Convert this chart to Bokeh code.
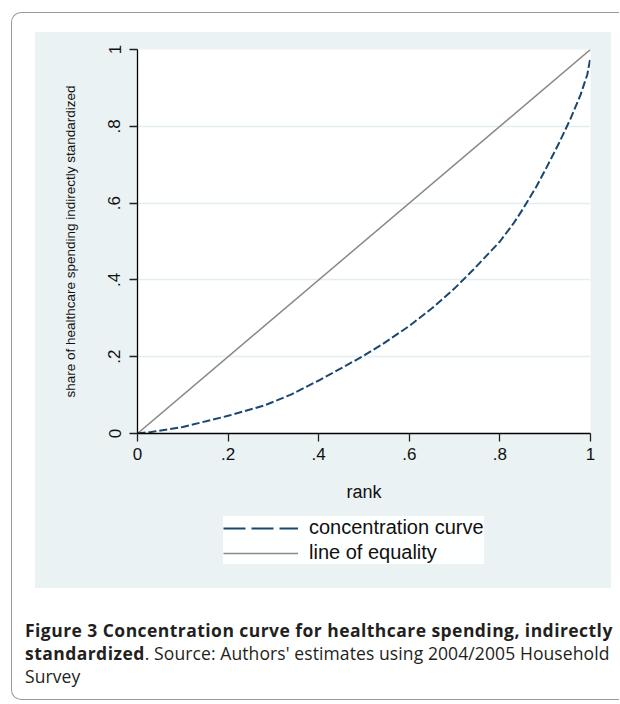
from bokeh.plotting import figure
from bokeh.models import FixedTicker, Legend, LegendItem, Div
from bokeh.layouts import column
from bokeh.embed import file_html
from bokeh.resources import INLINE

# ---- data ----
conc_rank = [0, 0.03, 0.1, 0.2, 0.28, 0.34, 0.4, 0.45, 0.5, 0.54, 0.6, 0.65, 0.7,
             0.74, 0.8, 0.83, 0.85, 0.88, 0.9, 0.93, 0.956, 0.978, 0.993, 1.0]
conc_share = [0, 0.004, 0.017, 0.046, 0.073, 0.102, 0.138, 0.170, 0.203, 0.232, 0.280,
              0.326, 0.378, 0.425, 0.500, 0.547, 0.583, 0.642, 0.686, 0.755, 0.820,
              0.882, 0.935, 0.98]
equality_rank = [0, 1]
equality_share = [0, 1]
tick_values = [0, 0.2, 0.4, 0.6, 0.8, 1]
tick_labels = ["0", ".2", ".4", ".6", ".8", "1"]
x_title = "rank"
y_title = "share of healthcare spending indirectly standardized"
series_names = ["concentration curve", "line of equality"]

PANEL = "#EAF2F3"
NAVY = "#1a476f"
GRAY = "#888888"
FONT = "Liberation Sans"

# ---- main plot (upper part of the shaded panel) ----
p = figure(width=576, height=480, x_range=(0, 1), y_range=(0, 1),
           output_backend="svg", toolbar_location=None,
           min_border_left=102, min_border_right=21, min_border_top=17,
           min_border_bottom=79,
           background_fill_color="white", border_fill_color=PANEL,
           outline_line_color=None)
p.margin = (19, 0, 0, 23)
p.styles = {"background-color": PANEL}

p.line(equality_rank, equality_share, line_color=GRAY, line_width=1.5)
p.line(conc_rank, conc_share, line_color=NAVY, line_width=2, line_dash="8 3")

overrides = {v: l for v, l in zip(tick_values, tick_labels)}
for ax in (p.xaxis[0], p.yaxis[0]):
    ax.ticker = FixedTicker(ticks=tick_values)
    ax.major_label_overrides = overrides
    ax.minor_tick_line_color = None
    ax.major_tick_in = 0
    ax.major_tick_out = 8
    ax.axis_line_color = "black"
    ax.axis_line_width = 1.3
    ax.major_tick_line_color = "#222222"
    ax.major_tick_line_width = 1.3
    ax.major_label_text_font = FONT
    ax.major_label_text_font_size = "17px"
    ax.major_label_text_color = "#111111"
    ax.axis_label_text_font = FONT
    ax.axis_label_text_font_style = "normal"
    ax.axis_label_text_color = "#111111"

p.xaxis.axis_label = x_title
p.xaxis.axis_label_text_font_size = "18px"
p.xaxis.major_label_standoff = 6
p.xaxis.axis_label_standoff = 19

p.yaxis.axis_label = y_title
p.yaxis.axis_label_text_font_size = "13.5px"
p.yaxis.major_label_orientation = "parallel"
p.yaxis.major_label_standoff = 9
p.yaxis.axis_label_standoff = 28

p.xgrid.grid_line_color = None
p.ygrid.grid_line_color = "#E4EDEF"
p.ygrid.grid_line_width = 1.3

# ---- legend strip (lower part of the shaded panel) ----
# its ranges lie away from the data, so only the legend keys are seen
leg = figure(width=576, height=76, x_range=(2, 3), y_range=(2, 3),
             output_backend="svg", toolbar_location=None,
             x_axis_type=None, y_axis_type=None, min_border=0,
             background_fill_color=PANEL, border_fill_color=PANEL,
             outline_line_color=None)
leg.margin = (0, 0, 0, 23)
leg.styles = {"background-color": PANEL}
cc_key = leg.line(conc_rank, conc_share, line_color=NAVY, line_width=2,
                  line_dash="22 6")
eq_key = leg.line(equality_rank, equality_share, line_color=GRAY, line_width=1.5)

legend = Legend(items=[LegendItem(label=series_names[0], renderers=[cc_key]),
                       LegendItem(label=series_names[1], renderers=[eq_key])],
                location=(86, 24), orientation="vertical",
                background_fill_color="white", border_line_color=None,
                label_text_font=FONT, label_text_font_size="20px",
                label_text_color="#111111",
                glyph_width=75, glyph_height=16, label_standoff=11,
                padding=8, spacing=2, margin=0)
leg.add_layout(legend, "center")

caption = Div(
    text=("<div style=\"font-family:'Open Sans'; font-size:17.5px; line-height:23px; "
          "color:#231f20; white-space:nowrap; letter-spacing:0.45px\">"
          "<b>Figure 3 Concentration curve for healthcare spending, indirectly</b><br>"
          "<b>standardized</b><span style=\"letter-spacing:0.1px\">. Source: Authors' "
          "estimates using 2004/2005 Household</span><br>"
          "<span style=\"letter-spacing:0.1px\">Survey</span></div>"),
    width=594, height=80)
caption.margin = (31, 0, 0, 13)

layout = column(p, leg, caption,
                styles={"border": "1px solid #9a9a9a", "border-right": "none",
                        "border-radius": "10px 0 0 10px"})
layout.margin = (12, 0, 0, 11)

open("out.html", "w").write(file_html(layout, INLINE))
